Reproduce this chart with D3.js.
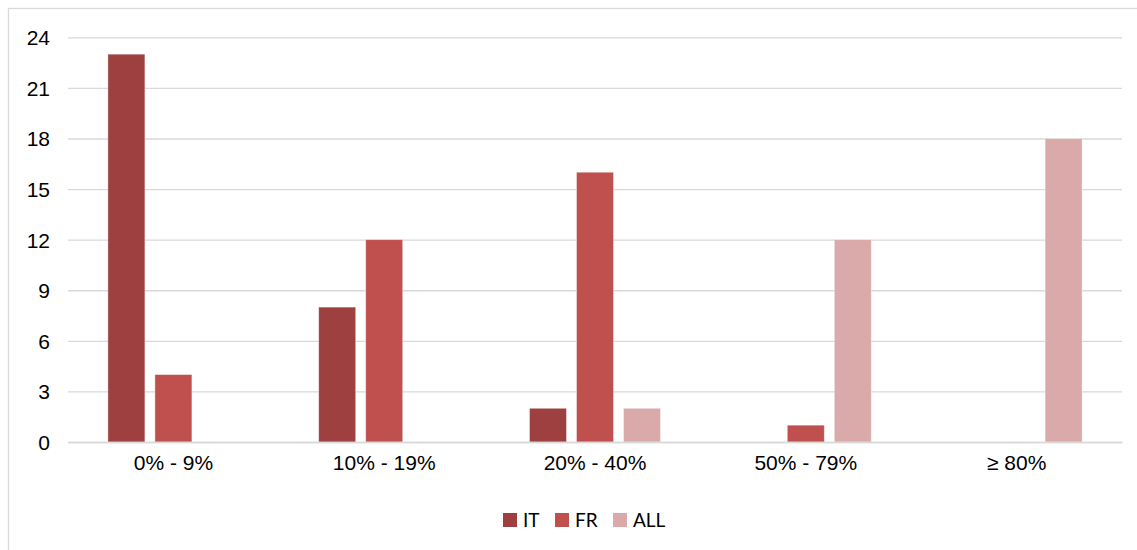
<!DOCTYPE html>
<html>
<head>
<meta charset="utf-8">
<script src="https://cdn.jsdelivr.net/npm/d3@7/dist/d3.min.js"></script>
<style>
  html, body { margin: 0; padding: 0; background: #fff; }
  svg { display: block; }
</style>
</head>
<body>
<svg id="chart" width="1137" height="550"></svg>
<script>
// Share ranges (categories) and the number of respondents per group
const categories = ["0% - 9%", "10% - 19%", "20% - 40%", "50% - 79%", "\u2265 80%"];
const seriesNames = ["IT", "FR", "ALL"];
const itValues  = [23, 8, 2, 0, 0];
const frValues  = [4, 12, 16, 1, 0];
const allValues = [0, 0, 2, 12, 18];
const yTicks = [0, 3, 6, 9, 12, 15, 18, 21, 24];
const colors = ["#9E403F", "#C0504D", "#DAA9A9"];

const seriesValues = [itValues, frValues, allValues];
const rows = categories.map((c, i) => ({
  category: c,
  values: seriesNames.map((s, k) => ({ series: s, value: seriesValues[k][i] }))
}));

const svg = d3.select("#chart");
const plot = { left: 68, right: 1122, top: 37.3, bottom: 442 };

// Outer frame of the chart area (clipped at right and bottom)
svg.append("rect")
  .attr("x", 8.5).attr("y", 8.5)
  .attr("width", 1140).attr("height", 560)
  .attr("fill", "none")
  .attr("stroke", "#D9D9D9")
  .attr("stroke-width", 1.3);

const x0 = d3.scaleBand().domain(categories).range([plot.left, plot.right]).padding(0);
const groupWidth = 131;
const x1 = d3.scaleBand().domain(seriesNames)
  .range([(x0.bandwidth() - groupWidth) / 2, (x0.bandwidth() + groupWidth) / 2])
  .paddingInner(10 / 47).paddingOuter(0);
const y = d3.scaleLinear().domain([0, 24]).range([plot.bottom, plot.top]);
const color = d3.scaleOrdinal().domain(seriesNames).range(colors);

// Horizontal gridlines and value labels
const yAxis = d3.axisLeft(y).tickValues(yTicks).tickSize(-(plot.right - plot.left)).tickPadding(18);
const gy = svg.append("g").attr("transform", `translate(${plot.left},0)`).call(yAxis);
gy.select(".domain").remove();
gy.selectAll(".tick line").attr("stroke", "#D9D9D9").attr("stroke-width", 1.3);
gy.selectAll(".tick text")
  .attr("fill", "#000")
  .attr("font-family", "'Liberation Sans', Arial, sans-serif")
  .attr("font-size", 21)
  .attr("dy", "0.35em");

// Bars
const groups = svg.append("g").selectAll("g")
  .data(rows).join("g")
  .attr("transform", d => `translate(${x0(d.category)},0)`);
groups.selectAll("rect")
  .data(d => d.values.filter(v => v.value > 0))
  .join("rect")
  .attr("x", d => x1(d.series))
  .attr("y", d => y(d.value))
  .attr("width", x1.bandwidth())
  .attr("height", d => y(0) - y(d.value))
  .attr("fill", d => color(d.series))
  .attr("stroke", "#ffffff")
  .attr("stroke-opacity", 0.5)
  .attr("stroke-width", 0.8);

// Category axis
const xAxis = d3.axisBottom(x0).tickSize(0).tickPadding(13);
const gx = svg.append("g").attr("transform", `translate(0,${plot.bottom})`).call(xAxis);
gx.select(".domain").attr("stroke", "#D9D9D9").attr("stroke-width", 1.3);
gx.selectAll(".tick text")
  .attr("fill", "#000")
  .attr("font-family", "'Liberation Sans', Arial, sans-serif")
  .attr("font-size", 21);

// Legend
const legendX = [503, 555, 613];
const legend = svg.append("g").selectAll("g")
  .data(seriesNames).join("g")
  .attr("transform", (d, i) => `translate(${legendX[i]},513)`);
legend.append("rect")
  .attr("width", 14).attr("height", 14)
  .attr("fill", d => color(d));
legend.append("text")
  .attr("x", 20).attr("y", 14)
  .attr("font-family", "Lato, 'Open Sans', sans-serif")
  .attr("font-size", 19)
  .attr("fill", "#000")
  .text(d => d);
</script>
</body>
</html>
